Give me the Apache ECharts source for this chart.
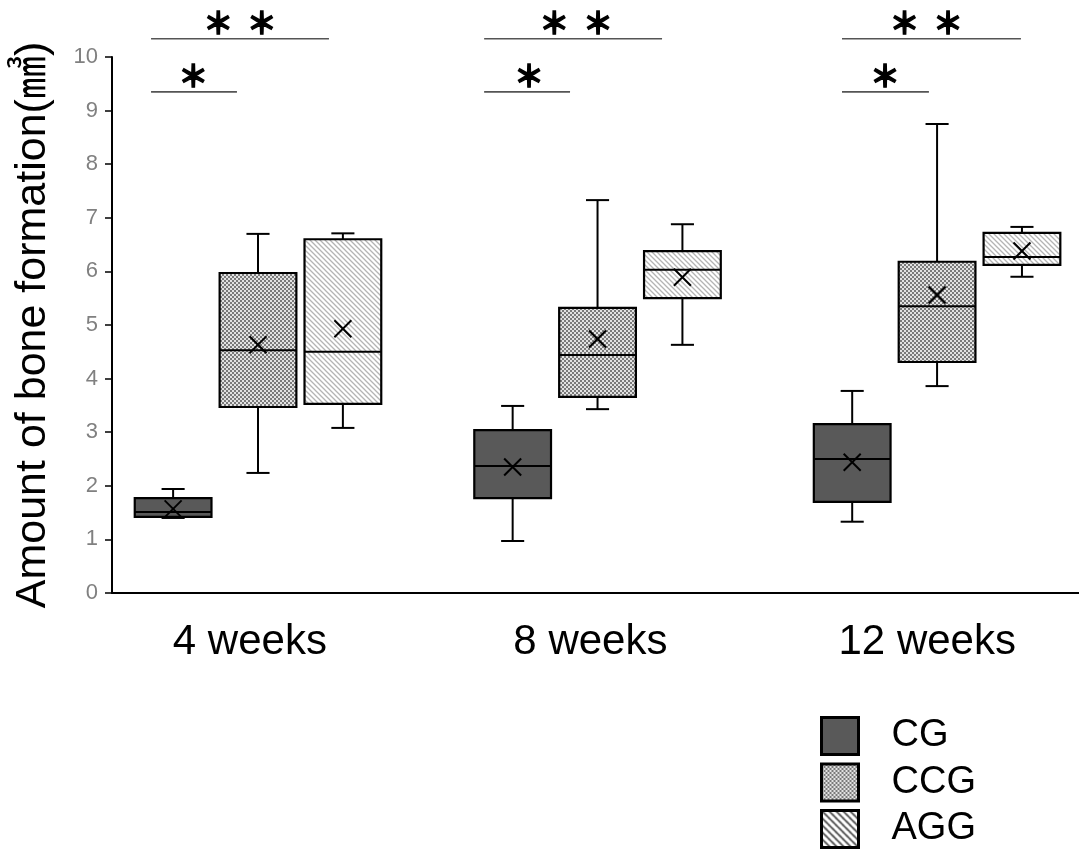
<!DOCTYPE html>
<html>
<head>
<meta charset="utf-8">
<script src="https://cdn.jsdelivr.net/npm/echarts@6/dist/echarts.min.js"></script>
<style>
html, body { margin: 0; padding: 0; background: #fff; }
#chart { width: 1079px; height: 859px; }
</style>
</head>
<body>
<div id="chart"></div>
<script>
var weeks = ['4 weeks', '8 weeks', '12 weeks'];
var weekLabelX = [0.976, 1.979, 2.971];
var groups = ['CG', 'CCG', 'AGG'];
var groupOffset = [-0.25, 0, 0.25];

// [min, Q1, median, Q3, max] per week
var cgBox  = [[1.40, 1.42, 1.51, 1.77, 1.94], [0.97, 1.77, 2.37, 3.04, 3.49], [1.33, 1.70, 2.50, 3.15, 3.77]];
var ccgBox = [[2.24, 3.47, 4.53, 5.97, 6.70], [3.43, 3.66, 4.44, 5.32, 7.33], [3.86, 4.31, 5.35, 6.18, 8.75]];
var aggBox = [[3.08, 3.53, 4.50, 6.60, 6.71], [4.63, 5.50, 6.03, 6.38, 6.88], [5.90, 6.12, 6.27, 6.72, 6.83]];
var cgMean  = [1.57, 2.35, 2.44];
var ccgMean = [4.63, 4.74, 5.56];
var aggMean = [4.93, 5.89, 6.38];

// significance brackets
var sigFrom  = [0.685, 0.685, 1.666, 1.666, 2.720, 2.720];
var sigTo    = [0.938, 1.209, 1.919, 2.190, 2.976, 3.247];
var sigY     = [9.35, 10.34, 9.35, 10.34, 9.35, 10.34];
var sigText  = ['＊', '＊  ＊', '＊', '＊  ＊', '＊', '＊  ＊'];
var sigTextX = [0.809, 0.947, 1.798, 1.937, 2.847, 2.968];

var FONT = '"Liberation Sans", Arial, "Noto Sans CJK JP", sans-serif';

function solid() { return '#595959'; }

function checker() {
    var c = document.createElement('canvas');
    c.width = 4; c.height = 4;
    var g = c.getContext('2d');
    g.fillStyle = '#e2e2e2';
    g.fillRect(0, 0, 4, 4);
    g.fillStyle = '#7a7a7a';
    g.fillRect(0, 0, 2, 2);
    g.fillRect(2, 2, 2, 2);
    return { image: c, repeat: 'repeat' };
}

function hatch(size, color, w) {
    var c = document.createElement('canvas');
    c.width = size; c.height = size;
    var g = c.getContext('2d');
    g.fillStyle = '#fff';
    g.fillRect(0, 0, size, size);
    g.strokeStyle = color;
    g.lineWidth = w;
    g.beginPath();
    g.moveTo(-1, -1); g.lineTo(size + 1, size + 1);
    g.moveTo(-1, size - 1); g.lineTo(1, size + 1);
    g.moveTo(size - 1, -1); g.lineTo(size + 1, 1);
    g.stroke();
    return { image: c, repeat: 'repeat' };
}

var fills = [solid(), checker(), hatch(5, '#b4b4b4', 1.3)];
var legendFills = [solid(), checker(), hatch(7, '#444', 1.6)];
var boxes = [cgBox, ccgBox, aggBox];
var means = [cgMean, ccgMean, aggMean];

var boxW = 0.226;
var capW = 0.068;
var lineStyle = { stroke: '#000', lineWidth: 2 };

function boxRender(fill) {
    return function (params, api) {
        var x = api.value(0);
        var pt = function (v) { return api.coord([x, v]); };
        var half = api.size([boxW, 0])[0] / 2;
        var cap = api.size([capW, 0])[0] / 2;
        var pMin = pt(api.value(1)), pQ1 = pt(api.value(2)), pMed = pt(api.value(3));
        var pQ3 = pt(api.value(4)), pMax = pt(api.value(5)), pMean = pt(api.value(6));
        var cx = pMin[0];
        var m = 8.5;
        return {
            type: 'group',
            children: [
                { type: 'line', shape: { x1: cx, y1: pMax[1], x2: cx, y2: pQ3[1] }, style: lineStyle },
                { type: 'line', shape: { x1: cx, y1: pQ1[1], x2: cx, y2: pMin[1] }, style: lineStyle },
                { type: 'line', shape: { x1: cx - cap, y1: pMax[1], x2: cx + cap, y2: pMax[1] }, style: lineStyle },
                { type: 'line', shape: { x1: cx - cap, y1: pMin[1], x2: cx + cap, y2: pMin[1] }, style: lineStyle },
                { type: 'rect', shape: { x: cx - half, y: pQ3[1], width: half * 2, height: pQ1[1] - pQ3[1] },
                  style: { fill: fill, stroke: '#000', lineWidth: 2.2 } },
                { type: 'line', shape: { x1: cx - half, y1: pMed[1], x2: cx + half, y2: pMed[1] }, style: lineStyle },
                { type: 'line', shape: { x1: cx - m, y1: pMean[1] - m, x2: cx + m, y2: pMean[1] + m }, style: lineStyle },
                { type: 'line', shape: { x1: cx - m, y1: pMean[1] + m, x2: cx + m, y2: pMean[1] - m }, style: lineStyle }
            ]
        };
    };
}

var series = groups.map(function (name, gi) {
    return {
        name: name,
        type: 'custom',
        silent: true,
        clip: false,
        itemStyle: { color: legendFills[gi], borderColor: '#000', borderWidth: 3 },
        encode: { x: 0, y: [1, 2, 3, 4, 5, 6] },
        data: weeks.map(function (w, i) {
            return [i + 1 + groupOffset[gi]].concat(boxes[gi][i]).concat([means[gi][i]]);
        }),
        renderItem: boxRender(fills[gi]),
        z: 2
    };
});

// category labels under the axis
series.push({
    type: 'custom',
    silent: true,
    clip: false,
    encode: { x: 0, y: 1 },
    data: weekLabelX.map(function (x) { return [x, 0]; }),
    renderItem: function (params, api) {
        var p = api.coord([api.value(0), 0]);
        return {
            type: 'text',
            x: p[0], y: p[1] + 49,
            style: { text: weeks[params.dataIndex], fill: '#000', font: '42px ' + FONT, align: 'center', verticalAlign: 'middle' }
        };
    }
});

// significance brackets
series.push({
    type: 'custom',
    silent: true,
    clip: false,
    encode: { x: 0, y: 2 },
    data: sigFrom.map(function (f, i) { return [f, sigTo[i], sigY[i], sigTextX[i]]; }),
    renderItem: function (params, api) {
        var a = api.coord([api.value(0), api.value(2)]);
        var b = api.coord([api.value(1), api.value(2)]);
        var t = api.coord([api.value(3), api.value(2)]);
        return {
            type: 'group',
            children: [
                { type: 'line', shape: { x1: a[0], y1: a[1], x2: b[0], y2: b[1] }, style: { stroke: '#555', lineWidth: 1.6 } },
                { type: 'text', x: t[0], y: t[1] - 16,
                  style: { text: sigText[params.dataIndex], fill: '#000', stroke: '#000', lineWidth: 1.4,
                           font: 'bold 30px "Noto Sans CJK JP"', align: 'center', verticalAlign: 'middle' } }
            ]
        };
    }
});

var chart = echarts.init(document.getElementById('chart'));
chart.setOption({
    animation: false,
    backgroundColor: '#fff',
    grid: { left: 112, right: 0, top: 57, bottom: 266 },
    legend: {
        orient: 'vertical',
        left: 820,
        top: 716,
        padding: 0,
        height: 140,
        icon: 'rect',
        itemWidth: 37,
        itemHeight: 37,
        itemGap: 6.5,
        selectedMode: false,
        textStyle: { fontSize: 38, fontFamily: FONT, color: '#000', padding: [0, 0, 0, 28], lineHeight: 37 },
        data: groups.map(function (g, i) {
            return { name: g, itemStyle: { color: legendFills[i], borderColor: '#000', borderWidth: 3 } };
        })
    },
    xAxis: {
        type: 'value',
        min: 0.570,
        max: 3.418,
        axisLine: { show: true, onZero: true, lineStyle: { color: '#000', width: 2 } },
        axisTick: { show: false },
        axisLabel: { show: false },
        splitLine: { show: false }
    },
    yAxis: {
        type: 'value',
        min: 0,
        max: 10,
        interval: 1,
        name: 'Amount of bone formation(㎣)',
        nameLocation: 'middle',
        nameRotate: 90,
        nameGap: 57,
        nameTextStyle: { fontSize: 43, fontFamily: FONT, color: '#000' },
        axisLine: { show: true, lineStyle: { color: '#000', width: 2 } },
        axisTick: { show: true, length: 7, lineStyle: { color: '#000', width: 1.5 } },
        axisLabel: { color: '#808080', fontSize: 22, fontFamily: FONT, margin: 14 },
        splitLine: { show: false }
    },
    series: series
});
</script>
</body>
</html>
